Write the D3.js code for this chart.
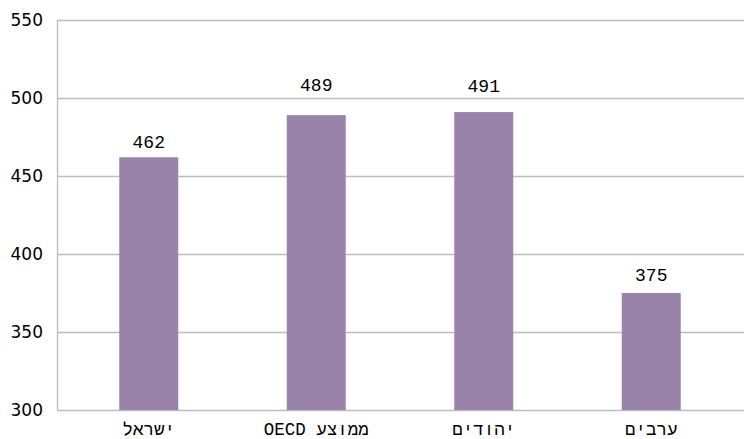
<!DOCTYPE html>
<html>
<head>
<meta charset="utf-8">
<script src="https://cdn.jsdelivr.net/npm/d3@7"></script>
<style>
  html, body { margin: 0; padding: 0; background: #fff; }
  svg { display: block; }
</style>
</head>
<body>
<svg id="chart" width="744" height="439"></svg>
<script>
// Mean scores by group
const categories = ["ישראל", "ממוצע OECD", "יהודים", "ערבים"];
const values = [462, 489, 491, 375];
const yTicks = [300, 350, 400, 450, 500, 550];

// how far each value label sits above its bar (px)
const labelLift = [9, 24, 20, 12];

const svg = d3.select("#chart");
const axisX = 57, gridRight = 744;
const plotTop = 20, plotBottom = 410;
const monoFont = "'Liberation Mono', 'Courier New', monospace";

const y = d3.scaleLinear().domain([300, 550]).range([plotBottom, plotTop]);
const x = d3.scaleBand()
  .domain(categories)
  .range([65, 735])
  .paddingInner(0.648)
  .paddingOuter(0.324);

// horizontal gridlines
svg.append("g")
  .selectAll("line")
  .data(yTicks)
  .join("line")
  .attr("x1", axisX)
  .attr("x2", gridRight)
  .attr("y1", d => Math.round(y(d)) + 0.5)
  .attr("y2", d => Math.round(y(d)) + 0.5)
  .attr("stroke", "#bdbdbd")
  .attr("stroke-width", 1.3);

// vertical axis line
svg.append("line")
  .attr("x1", axisX + 0.5).attr("x2", axisX + 0.5)
  .attr("y1", plotTop).attr("y2", plotBottom)
  .attr("stroke", "#bdbdbd")
  .attr("stroke-width", 1.3);

// y tick labels
svg.append("g")
  .selectAll("text")
  .data(yTicks)
  .join("text")
  .attr("x", 43)
  .attr("y", d => y(d) + 6)
  .attr("text-anchor", "end")
  .attr("font-family", "'DejaVu Sans', Verdana, sans-serif")
  .attr("font-size", 17)
  .attr("fill", "#000")
  .text(d => d);

// bars
svg.append("g")
  .selectAll("rect")
  .data(values)
  .join("rect")
  .attr("x", (d, i) => x(categories[i]))
  .attr("width", x.bandwidth())
  .attr("y", d => y(d))
  .attr("height", d => y(300) - y(d))
  .attr("fill", "#9983ab");

// value labels
svg.append("g")
  .selectAll("text")
  .data(values)
  .join("text")
  .attr("x", (d, i) => x(categories[i]) + x.bandwidth() / 2)
  .attr("y", (d, i) => y(d) - labelLift[i])
  .attr("text-anchor", "middle")
  .attr("font-family", monoFont)
  .attr("font-size", 18)
  .attr("fill", "#000")
  .text(d => d);

// category labels
svg.append("g")
  .selectAll("text")
  .data(categories)
  .join("text")
  .attr("x", d => x(d) + x.bandwidth() / 2)
  .attr("y", 435)
  .attr("text-anchor", "middle")
  .attr("direction", "rtl")
  .attr("font-family", monoFont)
  .attr("font-size", 17.5)
  .attr("fill", "#000")
  .text(d => d);
</script>
</body>
</html>
